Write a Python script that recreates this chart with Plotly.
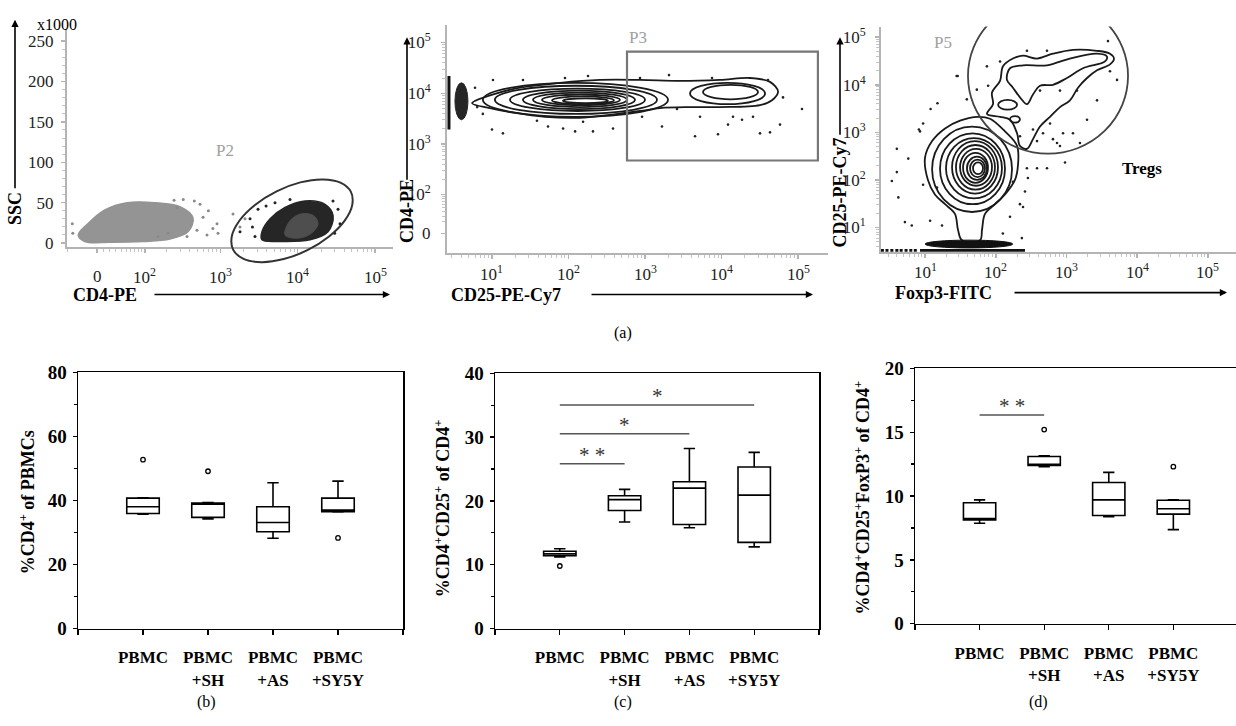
import numpy as np
import plotly.graph_objects as go

W, H = 1236, 726
SERIF = "Liberation Serif"

# ------------------------------------------------------------------ DATA
# (a) left: CD4-PE vs SSC (x1000)
p1_cloud_cd4 = [-30, -19, 20, 94, 221, 380, 442, 299, 139, 52, 12, -14]
p1_cloud_ssc = [10, 2, 1, 2, 5, 14, 31, 45, 50, 50, 41, 24]
p1_pos_cd4 = [3450, 5900, 14400, 24600, 28600, 22500, 12400, 6850, 4400, 3450]
p1_pos_ssc = [4, 2, 4, 14, 34, 48, 52, 44, 30, 14]
p1_core_cd4 = [6850, 10000, 15000, 18300, 16000, 11000, 8000]
p1_core_ssc = [10, 6, 12, 24, 34, 36, 28]
p1_gray_dots_cd4 = [545, 597, 498, 369, 905, 933, 273, 208, 152, 672, -41, -40, 1458, 1795, 2083,
                    460, 330, 250, 700, 800]
p1_gray_dots_ssc = [48, 32, 16, 8, 24, 12, 44, 12, 8, 10, 24, 12, 36, 20, 30,
                    52, 54, 53, 40, 18]
p1_dark_dots_cd4 = [1795, 2418, 2805, 3067, 33150, 35170, 28570, 7950, 5085, 2600, 3900, 30000]
p1_dark_dots_ssc = [14, 30, 8, 42, 42, 24, 52, 54, 50, 20, 46, 12]
p1_gate_cd4 = [48530, 35600, 21020, 10790, 5330, 2830, 1770, 1406, 1466, 1996, 3383, 6590,
               13330, 25140, 40210, 50570]
p1_gate_ssc = [63.7, 74.9, 78.8, 75.1, 64.1, 47.5, 27.9, 8.3, -8.4, -19.6, -23.6, -19.8,
               -8.8, 7.8, 27.4, 47.0]

# (a) middle: CD25-PE-Cy7 vs CD4-PE
p2_outer_cd25 = [5.5, 9.4, 23.2, 77.4, 258, 861, 2870, 9550, 23600, 43000, 54800, 45700,
                 31800, 9550, 3875, 1570, 861, 348, 141, 49.3, 20, 9.4]
p2_outer_cd4 = [6390, 9075, 12910, 16090, 18360, 18360, 17570, 18360, 20050, 16820, 10830, 7290,
                5850, 5355, 5355, 5125, 4490, 3767, 3300, 3448, 4110, 5125]
p2_ell_cd25_lo = [7.6, 10.9, 17.2, 25.4, 34.3, 45, 60.9, 84.7, 3875, 5730]
p2_ell_cd25_hi = [2000, 1435, 1000, 740, 582, 471, 393, 328, 37100, 30000]
p2_ell_cd4_lo = [3448, 3934, 4490, 4900, 5355, 5850, 6115, 6390, 6115, 7620]
p2_ell_cd4_hi = [16090, 14090, 12350, 11310, 10370, 9490, 8700, 7950, 16090, 14730]
p2_dots_cd25 = [10.3, 25.4, 90, 180, 861, 2060, 7520, 40550, 6.0, 6.4, 7.6, 10, 13.9, 38.7, 54,
                85, 122, 155, 209, 382, 915, 1667, 2620, 4510, 5240, 9000, 12160, 14130, 18530,
                25800, 31860, 43050, 58200, 63660, 112700]
p2_dots_cd4 = [18360, 18360, 20050, 21900, 20050, 22880, 20050, 18360, 12920, 5357, 3934, 1944,
               1630, 2890, 2218, 2030, 1780, 2765, 1780, 2030, 3447, 2218, 4900, 1430, 3447, 1560,
               2423, 3447, 3020, 3447, 1630, 1704, 2423, 8320, 4900]
p2_bar_cd25 = [2.74, 2.74]
p2_bar_cd4 = [1944, 21900]
p2_blob_cd25 = [3.28, 4.85]
p2_blob_cd4 = [3020, 16090]
p2_gate_cd25 = [582, 182000]
p2_gate_cd4 = [475, 66000]

# (a) right: Foxp3-FITC vs CD25-PE-Cy7
p3_low_foxp3 = [10, 12.6, 19.2, 31.3, 56, 83, 135, 200, 206, 187, 135, 97.5, 70.5, 64, 60,
                33.3, 29.2, 26.5, 19.2, 13.8, 11.0]
p3_low_cd25 = [294, 655, 1207, 1758, 2120, 1933, 1047, 518, 202, 100, 49.4, 30.9, 19.3, 9.1, 5.4,
               5.4, 9.1, 19.3, 30.9, 49.4, 100]
p3_up_foxp3 = [75.2, 91.4, 88.5, 115, 126.6, 175, 243, 383, 644, 1235, 2700, 4120, 4690, 4120,
               2700, 1950, 1455, 1120, 809, 585, 422, 336, 276, 220, 200, 159, 115]
p3_up_cd25 = [2440, 3910, 6870, 12080, 24430, 35560, 40930, 35560, 45000, 54300, 51800, 45000,
              35560, 26850, 20230, 13900, 8690, 4710, 3395, 2120, 1324, 720, 450, 518, 955, 1842, 2120]
p3_band_foxp3 = [144, 159, 243, 530, 1120, 2700, 3730, 3500, 1710, 1016, 644, 422, 336, 276, 220, 175]
p3_band_cd25 = [12650, 22230, 25600, 25600, 35560, 45000, 39080, 30900, 22230, 13900, 10000, 9550,
                6250, 3910, 5430, 8690]
p3_ell_foxp3_lo = [12.6, 16.3, 19.8, 24.1, 27.4, 31.3, 34.5, 39.2, 43.3, 47.7, 108, 159]
p3_ell_foxp3_hi = [169.8, 135.2, 122.5, 107.6, 97.5, 88.5, 77.7, 75.2, 70.5, 66.1, 200, 220]
p3_ell_cd25_lo = [21.2, 30.9, 41, 51.8, 62.5, 75.5, 86.9, 100, 115, 132, 3000, 1600]
p3_ell_cd25_hi = [1324, 955, 755, 655, 543, 450, 372, 309, 268, 233, 4800, 2200]
p3_dots_foxp3 = [29, 54, 39, 15, 12, 8.2, 9.4, 5.8, 4.0, 3.4, 4.2, 5.2, 6.5, 9.4, 14.8, 11.8, 17.4,
                 234, 276, 285, 259, 383, 175, 243, 75, 78, 115, 466, 735, 893, 585, 383, 336, 220,
                 3860, 5180, 4120, 953, 530, 644, 1235, 1950, 1550, 809, 220, 159, 126, 4.0, 8.5,
                 28, 422, 809, 1406, 2700, 276, 530]
p3_dots_cd25 = [15300, 7900, 4940, 4100, 3090, 1150, 1530, 281, 146, 95, 43, 13, 11, 79, 69, 13.9,
                11, 6.0, 176, 110, 57, 176, 91, 27, 24400, 9550, 30900, 955, 597, 955, 1530, 655,
                1150, 828, 82800, 12650, 19300, 233, 176, 720, 955, 1842, 597, 518, 31, 16.8, 7.5,
                450, 1047, 15300, 7550, 7550, 7550, 4710, 51800, 51800]
p3_floor_foxp3 = [8.5, 259]
p3_floor_cd25 = [3.3, 3.3]
p3_floor_dots_foxp3 = [2.5, 2.9, 3.4, 4.0, 4.6, 5.4, 6.3, 7.3]
p3_pile_foxp3 = [10, 174]
p3_pile_cd25 = [3.72, 5.43]
p3_gate_foxp3 = [40.5, 7410]
p3_gate_cd25 = [356, 656000]

# flow tick labels
p1_x_ticks = [0, 1e2, 1e3, 1e4, 1e5]
p1_x_labels = ["0", "10<sup>2</sup>", "10<sup>3</sup>", "10<sup>4</sup>", "10<sup>5</sup>"]
p1_y_ticks = [0, 50, 100, 150, 200, 250]
p2_x_ticks = [1e1, 1e2, 1e3, 1e4, 1e5]
p2_x_labels = ["10<sup>1</sup>", "10<sup>2</sup>", "10<sup>3</sup>", "10<sup>4</sup>", "10<sup>5</sup>"]
p2_y_ticks = [0, 1e2, 1e3, 1e4, 1e5]
p2_y_labels = ["0", "10<sup>2</sup>", "10<sup>3</sup>", "10<sup>4</sup>", "10<sup>5</sup>"]
p3_ticks = [1e1, 1e2, 1e3, 1e4, 1e5]
p3_labels = ["10<sup>1</sup>", "10<sup>2</sup>", "10<sup>3</sup>", "10<sup>4</sup>", "10<sup>5</sup>"]

# (b)-(d) box plots
groups = ["PBMC", "PBMC<br>+SH", "PBMC<br>+AS", "PBMC<br>+SY5Y"]
b_q1 = [35.9, 34.7, 30.2, 36.5]
b_median = [38.0, 38.8, 33.1, 37.0]
b_q3 = [40.7, 39.2, 38.0, 40.7]
b_low = [35.7, 34.2, 28.2, 36.4]
b_high = [40.8, 39.3, 45.5, 46.0]
b_out_group = [0, 1, 3]
b_out_value = [52.7, 49.1, 28.3]

c_q1 = [11.4, 18.5, 16.3, 13.5]
c_median = [11.7, 20.2, 22.0, 20.9]
c_q3 = [12.1, 20.8, 23.0, 25.3]
c_low = [11.2, 16.7, 15.8, 12.8]
c_high = [12.5, 21.8, 28.2, 27.6]
c_out_group = [0]
c_out_value = [9.8]
c_sig_from = [0, 0, 0]
c_sig_to = [1, 2, 3]
c_sig_level = [25.8, 30.5, 35.0]
c_sig_text = ["* *", "*", "*"]

d_q1 = [8.13, 12.4, 8.48, 8.58]
d_median = [8.23, 12.45, 9.7, 9.0]
d_q3 = [9.47, 13.1, 11.06, 9.67]
d_low = [7.87, 12.3, 8.38, 7.37]
d_high = [9.7, 13.15, 11.85, 9.7]
d_out_group = [1, 3]
d_out_value = [15.2, 12.3]
d_sig_from = [0]
d_sig_to = [1]
d_sig_level = [16.35]
d_sig_text = ["* *"]


# ------------------------------------------------------------------ SCALES
def biex1(v):
    return np.arcsinh(np.asarray(v, dtype=float) / 51.0) / np.log(10)


def biex2(v):
    return np.arcsinh(np.asarray(v, dtype=float) / 35.0) / np.log(10)


def lg(v):
    return np.log10(np.asarray(v, dtype=float))


def closed(a):
    a = list(np.asarray(a, dtype=float))
    return a + [a[0]]


def dom_x(a, b):
    return [a / W, min(b / W, 1.0)]


def dom_y(top, bottom):
    return [1 - bottom / H, 1 - top / H]


minor_log = [m * 10 ** k for k in range(0, 5) for m in range(2, 10)]
minor_p1 = [-50, 10, 20, 30, 40, 50, 60, 70, 80, 90] + [m * 10 ** k for k in range(2, 5) for m in range(2, 10)]
minor_p2y = [m * 10 ** k for k in range(1, 5) for m in range(2, 10)]

AXGRAY = "#b4b4b4"


def flow_axis(domain, rng, tickvals, ticktext, minor_vals, standoff, anchor, labels=True):
    return dict(domain=domain, range=rng, anchor=anchor, tickmode="array", tickvals=list(tickvals),
                ticktext=ticktext, showticklabels=labels, showline=True, linecolor=AXGRAY, linewidth=2,
                ticks="outside", ticklen=4, tickwidth=1.5, tickcolor=AXGRAY,
                minor=dict(tickmode="array", tickvals=list(minor_vals), ticks="outside", ticklen=3,
                           tickwidth=1, tickcolor="#c4c4c4"),
                showgrid=False, zeroline=False, layer="below traces",
                tickfont=dict(family=SERIF, size=17, color="#222"), ticklabelstandoff=standoff)


def box_axes(xdom, ydom, yrng, dtick, mirror_y, xr, anchor_x, anchor_y):
    xa = dict(domain=xdom, range=xr, anchor=anchor_y, tickmode="array", tickvals=[-1, 0, 1, 2, 3, 4],
              ticktext=[""] + groups + [""], showline=True, mirror=True, linecolor="black", linewidth=1.5,
              ticks="outside", ticklen=5, tickwidth=1.3, tickcolor="black", showgrid=False, zeroline=False,
              tickfont=dict(family=SERIF, size=17, color="black", weight="bold"), ticklabelstandoff=8)
    ya = dict(domain=ydom, range=yrng, anchor=anchor_x, dtick=dtick, tick0=0, showline=True, mirror=mirror_y,
              linecolor="black", linewidth=1.5, ticks="outside", ticklen=4, tickwidth=1.3, tickcolor="black",
              minor=dict(dtick=dtick / 2, ticks="outside", ticklen=3, tickwidth=1.2, tickcolor="black"),
              showgrid=False, zeroline=False, ticklabelstandoff=2,
              tickfont=dict(family=SERIF, size=19, color="black", weight="bold"))
    return xa, ya


fig = go.Figure()

# ---------------- panel (a) left
fig.add_trace(go.Scatter(x=biex1(closed(p1_cloud_cd4)), y=closed(p1_cloud_ssc), mode="lines",
                         fill="toself", fillcolor="#949494", line=dict(color="#949494", width=1.5, shape="spline"),
                         xaxis="x", yaxis="y", hoverinfo="skip"))
fig.add_trace(go.Scatter(x=biex1(p1_gray_dots_cd4), y=p1_gray_dots_ssc, mode="markers",
                         marker=dict(size=3, color="#8a8a8a"), xaxis="x", yaxis="y", hoverinfo="skip"))
fig.add_trace(go.Scatter(x=biex1(closed(p1_pos_cd4)), y=closed(p1_pos_ssc), mode="lines",
                         fill="toself", fillcolor="#262626", line=dict(color="#262626", width=1.5, shape="spline"),
                         xaxis="x", yaxis="y", hoverinfo="skip"))
fig.add_trace(go.Scatter(x=biex1(closed(p1_core_cd4)), y=closed(p1_core_ssc), mode="lines",
                         fill="toself", fillcolor="#4e4e4e", line=dict(color="#4e4e4e", width=1, shape="spline"),
                         xaxis="x", yaxis="y", hoverinfo="skip"))
fig.add_trace(go.Scatter(x=biex1(p1_dark_dots_cd4), y=p1_dark_dots_ssc, mode="markers",
                         marker=dict(size=3, color="#222"), xaxis="x", yaxis="y", hoverinfo="skip"))
# gate drawn on an overlay subplot that reaches below the x axis line
fig.add_trace(go.Scatter(x=biex1(closed(p1_gate_cd4)), y=closed(p1_gate_ssc), mode="lines",
                         line=dict(color="#333", width=2, shape="spline"), xaxis="x7", yaxis="y7",
                         hoverinfo="skip"))

# ---------------- panel (a) middle
fig.add_trace(go.Scatter(x=lg(p2_bar_cd25), y=biex2(p2_bar_cd4), mode="lines",
                         line=dict(color="#111", width=3), xaxis="x2", yaxis="y2", hoverinfo="skip"))
fig.add_trace(go.Scatter(x=lg(closed(p2_outer_cd25)), y=biex2(closed(p2_outer_cd4)), mode="lines",
                         line=dict(color="#1a1a1a", width=1.8, shape="spline"), xaxis="x2", yaxis="y2",
                         hoverinfo="skip"))
fig.add_trace(go.Scatter(x=lg(p2_dots_cd25), y=biex2(p2_dots_cd4), mode="markers",
                         marker=dict(size=2.6, color="#222"), xaxis="x2", yaxis="y2", hoverinfo="skip"))

# ---------------- panel (a) right
fig.add_trace(go.Scatter(x=lg(p3_floor_foxp3), y=lg(p3_floor_cd25), mode="lines",
                         line=dict(color="#111", width=3), xaxis="x3", yaxis="y3", hoverinfo="skip"))
fig.add_trace(go.Scatter(x=lg(p3_floor_dots_foxp3), y=lg([p3_floor_cd25[0]] * len(p3_floor_dots_foxp3)),
                         mode="markers", marker=dict(size=3, color="#111", symbol="square"),
                         xaxis="x3", yaxis="y3", hoverinfo="skip"))
for xs, ys in [(p3_low_foxp3, p3_low_cd25), (p3_up_foxp3, p3_up_cd25), (p3_band_foxp3, p3_band_cd25)]:
    fig.add_trace(go.Scatter(x=lg(closed(xs)), y=lg(closed(ys)), mode="lines",
                             line=dict(color="#1a1a1a", width=1.8, shape="spline"), xaxis="x3", yaxis="y3",
                             hoverinfo="skip"))
fig.add_trace(go.Scatter(x=lg(p3_dots_foxp3), y=lg(p3_dots_cd25), mode="markers",
                         marker=dict(size=2.6, color="#222"), xaxis="x3", yaxis="y3", hoverinfo="skip"))

# ---------------- box plots
box_sets = [
    ("x4", "y4", b_q1, b_median, b_q3, b_low, b_high, b_out_group, b_out_value),
    ("x5", "y5", c_q1, c_median, c_q3, c_low, c_high, c_out_group, c_out_value),
    ("x6", "y6", d_q1, d_median, d_q3, d_low, d_high, d_out_group, d_out_value),
]
for xa, ya, q1, med, q3, lo, hi, og, ov in box_sets:
    fig.add_trace(go.Box(x=[0, 1, 2, 3], q1=q1, median=med, q3=q3, lowerfence=lo, upperfence=hi,
                         boxpoints=False, width=0.5, whiskerwidth=0.35, fillcolor="white",
                         line=dict(color="black", width=1.6), xaxis=xa, yaxis=ya, hoverinfo="skip"))
    fig.add_trace(go.Scatter(x=og, y=ov, mode="markers",
                             marker=dict(symbol="circle-open", size=4.5, color="black", line=dict(width=1.3)),
                             xaxis=xa, yaxis=ya, hoverinfo="skip"))

shapes = []
# P2 contour ellipses
for a, b, c, d in zip(p2_ell_cd25_lo, p2_ell_cd25_hi, p2_ell_cd4_lo, p2_ell_cd4_hi):
    shapes.append(dict(type="circle", xref="x2", yref="y2", x0=float(lg(a)), x1=float(lg(b)),
                       y0=float(biex2(c)), y1=float(biex2(d)), line=dict(color="#1a1a1a", width=1.8)))
shapes.append(dict(type="circle", xref="x2", yref="y2", x0=float(lg(p2_blob_cd25[0])), x1=float(lg(p2_blob_cd25[1])),
                   y0=float(biex2(p2_blob_cd4[0])), y1=float(biex2(p2_blob_cd4[1])),
                   fillcolor="#262626", line=dict(color="#262626", width=1)))
shapes.append(dict(type="rect", xref="x2", yref="y2", x0=float(lg(p2_gate_cd25[0])), x1=float(lg(p2_gate_cd25[1])),
                   y0=float(biex2(p2_gate_cd4[0])), y1=float(biex2(p2_gate_cd4[1])),
                   line=dict(color="#777", width=2.2)))
# P3 contour ellipses, pile-up and gate
for a, b, c, d in zip(p3_ell_foxp3_lo, p3_ell_foxp3_hi, p3_ell_cd25_lo, p3_ell_cd25_hi):
    shapes.append(dict(type="circle", xref="x3", yref="y3", x0=float(lg(a)), x1=float(lg(b)),
                       y0=float(lg(c)), y1=float(lg(d)), line=dict(color="#1a1a1a", width=1.8)))
shapes.append(dict(type="circle", xref="x3", yref="y3", x0=float(lg(p3_pile_foxp3[0])), x1=float(lg(p3_pile_foxp3[1])),
                   y0=float(lg(p3_pile_cd25[0])), y1=float(lg(p3_pile_cd25[1])),
                   fillcolor="#111", line=dict(color="#111", width=1)))
shapes.append(dict(type="circle", xref="x3", yref="y3", x0=float(lg(p3_gate_foxp3[0])), x1=float(lg(p3_gate_foxp3[1])),
                   y0=float(lg(p3_gate_cd25[0])), y1=float(lg(p3_gate_cd25[1])),
                   line=dict(color="#444", width=1.8)))

annotations = []
# significance bars
for xa, ya, f, t, lvl, txt in [("x5", "y5", c_sig_from, c_sig_to, c_sig_level, c_sig_text),
                                ("x6", "y6", d_sig_from, d_sig_to, d_sig_level, d_sig_text)]:
    for a, b, lv, s in zip(f, t, lvl, txt):
        shapes.append(dict(type="line", xref=xa, yref=ya, x0=a, x1=b, y0=lv, y1=lv,
                           line=dict(color="#555", width=1.5)))
        annotations.append(dict(x=(a + b) / 2, y=lv, xref=xa, yref=ya, text=s, showarrow=False,
                                yanchor="bottom", yshift=-5, font=dict(family=SERIF, size=21, color="#333")))


def P(x, y):
    return x / W, 1 - y / H


def text_ann(x, y, text, size=17, color="black", angle=0, bold=False):
    px_, py_ = P(x, y)
    return dict(x=px_, y=py_, xref="paper", yref="paper", text=text, showarrow=False, textangle=angle,
                xanchor="center", yanchor="middle",
                font=dict(family=SERIF, size=size, color=color, weight="bold" if bold else "normal"))


def arrow_ann(x0, y0, x1, y1):
    px_, py_ = P(x1, y1)
    return dict(x=px_, y=py_, xref="paper", yref="paper", ax=x0 - x1, ay=y0 - y1, axref="pixel", ayref="pixel",
                text="", showarrow=True, arrowhead=2, arrowsize=0.9, arrowwidth=1.6, arrowcolor="black")


def xtick_labels(xref, vals, labels, ypx):
    out = []
    for v, lab in zip(vals, labels):
        out.append(dict(x=float(v), y=P(0, ypx)[1], xref=xref, yref="paper", text=lab, showarrow=False,
                        xanchor="center", yanchor="middle", font=dict(family=SERIF, size=17, color="#222")))
    return out


annotations += xtick_labels("x", biex1(p1_x_ticks), p1_x_labels, 274)
annotations += xtick_labels("x2", lg(p2_x_ticks), p2_x_labels, 271)
annotations += xtick_labels("x3", lg(p3_ticks), p3_labels, 269)

annotations += [
    arrow_ann(15, 180, 15, 10), text_ann(15, 205, "SSC", 18, angle=-90, bold=True),
    arrow_ann(153, 293, 390, 293), text_ann(105, 294, "CD4-PE", 18, bold=True),
    text_ann(57, 15, "x1000", 16), text_ann(225, 145, "P2", 17, color="#a0a0a0"),
    arrow_ann(407, 172, 407, 28), text_ann(407, 207, "CD4-PE", 18, angle=-90, bold=True),
    arrow_ann(590, 293, 813, 293), text_ann(506, 293, "CD25-PE-Cy7", 18, bold=True),
    text_ann(638, 28, "P3", 17, color="#a0a0a0"),
    arrow_ann(840, 127, 840, 28), text_ann(840, 188, "CD25-PE-Cy7", 18, angle=-90, bold=True),
    arrow_ann(1013, 291, 1227, 291), text_ann(943, 291, "Foxp3-FITC", 18, bold=True),
    text_ann(943, 33, "P5", 17, color="#a0a0a0"), text_ann(1142, 163, "Tregs", 17, bold=True),
    text_ann(623, 333, "(a)", 16), text_ann(206, 713, "(b)", 16), text_ann(623, 713, "(c)", 16),
    text_ann(1038, 713, "(d)", 16),
    text_ann(27, 507, "%CD4<sup>+</sup> of PBMCs", 18, angle=-90, bold=True),
    text_ann(442, 513, "%CD4<sup>+</sup>CD25<sup>+</sup> of CD4<sup>+</sup>", 18, angle=-90, bold=True),
    text_ann(862, 502, "%CD4<sup>+</sup>CD25<sup>+</sup>FoxP3<sup>+</sup> of CD4<sup>+</sup>", 18, angle=-90, bold=True),
]

layout = dict(width=W, height=H, margin=dict(l=0, r=0, t=0, b=0), paper_bgcolor="white",
              plot_bgcolor="rgba(0,0,0,0)", showlegend=False, shapes=shapes, annotations=annotations,
              hovermode=False)

# flow axes
layout["xaxis"] = flow_axis(dom_x(67, 393), [-0.3876, 3.8243], biex1(p1_x_ticks), p1_x_labels,
                            biex1(minor_p1), 3, "y", labels=False)
layout["yaxis"] = flow_axis(dom_y(20, 244), [-4.8, 264.4], p1_y_ticks, [str(v) for v in p1_y_ticks],
                            list(range(10, 260, 10)), 4, "x")
layout["xaxis7"] = dict(domain=dom_x(67, 393), range=[-0.3876, 3.8243], visible=False, anchor="y7")
layout["yaxis7"] = dict(domain=dom_y(20, 262), range=[-26.4, 264.4], visible=False, anchor="x7")
layout["xaxis2"] = flow_axis(dom_x(447, 828), [0.412, 5.392], lg(p2_x_ticks), p2_x_labels, lg(minor_log), 3, "y2",
                             labels=False)
layout["yaxis2"] = flow_axis(dom_y(15, 250), [-0.3824, 4.1109], biex2(p2_y_ticks), p2_y_labels,
                             biex2(minor_p2y), 7, "x2")
layout["xaxis3"] = flow_axis(dom_x(881, 1236), [0.378, 5.396], lg(p3_ticks), p3_labels, lg(minor_log), 3, "y3",
                             labels=False)
layout["yaxis3"] = flow_axis(dom_y(17, 249), [0.4898, 5.2245], lg(p3_ticks), p3_labels, lg(minor_log), 6, "x3")

# box axes
layout["xaxis4"], layout["yaxis4"] = box_axes(dom_x(78, 403), dom_y(373, 637), [0, 80], 20, True, [-1, 4], "x4", "y4")
layout["xaxis5"], layout["yaxis5"] = box_axes(dom_x(495, 819), dom_y(374, 637), [0, 40], 10, True, [-1, 4], "x5", "y5")
layout["xaxis6"], layout["yaxis6"] = box_axes(dom_x(915, 1236), dom_y(369, 632), [0, 20], 5, False, [-1, 3.97], "x6", "y6")

fig.update_layout(**layout)
fig.write_html("out.html", config={"displayModeBar": False, "staticPlot": True},
               post_script="document.body.style.margin='0';document.body.style.padding='0';"
                           "document.body.style.overflow='hidden';")
